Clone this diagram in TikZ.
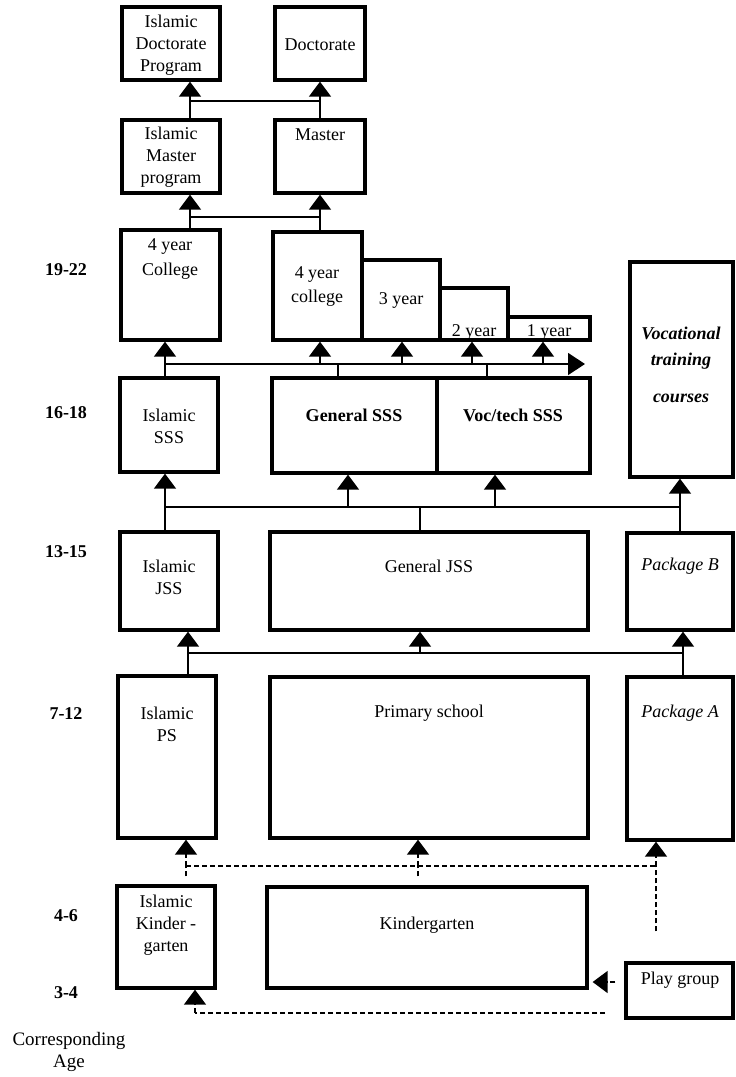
\documentclass[tikz,border=0pt]{standalone}
\usepackage{fontspec}
\setmainfont{Liberation Serif}
\usetikzlibrary{arrows.meta,fit}
\newcommand\bx[5]{\node[box, fit={(#2,#3) (#4,#5)}] (#1) {};}
\begin{document}
\begin{tikzpicture}[x=1pt,y=-1pt,
  box/.style={draw, line width=3.3pt, inner sep=0pt},
  txt/.style={font=\fontsize{18}{22}\selectfont, inner sep=0pt, align=center},
  btxt/.style={txt, font=\bfseries\fontsize{18}{22}\selectfont},
  itxt/.style={txt, font=\itshape\fontsize{18}{22}\selectfont},
  bitxt/.style={txt, font=\bfseries\itshape\fontsize{18}{22}\selectfont},
  age/.style={font=\bfseries\fontsize{18}{22}\selectfont, inner sep=0pt},
  ln/.style={line width=1.4pt},
  tip/.style={-{Triangle[width=22pt,length=15pt]}},
  arr/.style={ln, tip},
  dsh/.style={ln, dash pattern=on 5pt off 3pt}
]
\useasboundingbox (0,0) rectangle (736,1077);
\fill[white] (0,0) rectangle (736,1077);

% boxes
\bx{idoc}{122}{7}{220}{80}
\bx{doc}{275}{7}{365}{80}
\bx{imas}{122}{120}{220}{193}
\bx{mas}{275}{120}{365}{193}
\bx{icol}{121}{230}{220}{340}
\bx{col4}{273}{232}{362}{340}
\bx{col3}{362}{260}{440}{340}
\bx{col2}{440}{288}{508}{340}
\bx{col1}{508}{317}{590}{340}
\bx{voc}{630}{262}{733}{477}
\bx{isss}{120}{378}{218}{472}
\bx{gsss}{272}{378}{437}{473}
\bx{vsss}{437}{378}{590}{473}
\bx{ijss}{120}{532}{218}{630}
\bx{gjss}{270}{532}{588}{630}
\bx{pkgb}{627}{533}{733}{630}
\bx{ips}{118}{676}{216}{838}
\bx{prim}{270}{677}{588}{838}
\bx{pkga}{627}{677}{733}{840}
\bx{ikg}{117}{886}{215}{988}
\bx{kg}{267}{887}{587}{988}
\bx{play}{626}{963}{733}{1018}

% texts
\node[txt] (tidoc) at (171,45) {Islamic\\Doctorate\\Program};
\node[txt] (tdoc) at (320,45) {Doctorate};
\node[txt] (timas) at (171,157) {Islamic\\Master\\program};
\node[txt] (tmas) at (320,135) {Master};
\node[txt] (ticol) at (170,259) {4 year\\[3pt]College};
\node[txt] (tcol4) at (317,287) {4 year\\[2pt]college};
\node[txt] (tcol3) at (401,300) {3 year};
\node[txt] (tcol2) at (474,332) {2 year};
\node[txt] (tcol1) at (549,332) {1 year};
\node[bitxt] (tvoc1) at (681,333) {Vocational};
\node[bitxt] (tvoc2) at (681,361) {training};
\node[bitxt] (tvoc3) at (681,398) {courses};
\node[txt] (tisss) at (169,426) {Islamic\\SSS};
\node[btxt] (tgsss) at (354,415) {General SSS};
\node[btxt] (tvsss) at (513,415) {Voc/tech SSS};
\node[txt] (tijss) at (169,577) {Islamic\\JSS};
\node[txt] (tgjss) at (429,566) {General JSS};
\node[itxt] (tpkgb) at (680,566) {Package B};
\node[txt] (tips) at (167,724) {Islamic\\PS};
\node[txt] (tprim) at (429,713) {Primary school};
\node[itxt] (tpkga) at (680,713) {Package A};
\node[txt] (tikg) at (166,925) {Islamic\\Kinder -\\garten};
\node[txt] (tkg) at (427,925) {Kindergarten};
\node[txt] (tplay) at (680,980) {Play group};

% ages
\node[age] (a1) at (66,270) {19-22};
\node[age] (a2) at (66,413) {16-18};
\node[age] (a3) at (66,552) {13-15};
\node[age] (a4) at (66,714) {7-12};
\node[age] (a5) at (66,916) {4-6};
\node[age] (a6) at (66,993) {3-4};
\node[txt, font=\fontsize{19}{22}\selectfont] (corr) at (69,1052) {Corresponding\\Age};

% master -> doctorate
\coordinate (j1a) at (190,101); \coordinate (j1b) at (320,101);
\draw[arr] (j1a |- imas.north) -- (j1a |- idoc.south);
\draw[arr] (j1b |- mas.north) -- (j1b |- doc.south);
\draw[ln] (j1a) -- (j1b);

% college -> master
\coordinate (j2a) at (190,217); \coordinate (j2b) at (320,217);
\draw[arr] (j2a |- icol.north) -- (j2a |- imas.south);
\draw[arr] (j2b |- col4.north) -- (j2b |- mas.south);
\draw[ln] (j2a) -- (j2b);

% SSS -> college
\coordinate (b3s) at (165,364); \coordinate (b3e) at (585,364);
\coordinate (b3a) at (320,364); \coordinate (b3b) at (402,364);
\coordinate (b3c) at (472,364); \coordinate (b3d) at (543,364);
\coordinate (b3g) at (338,364); \coordinate (b3v) at (487,364);
\draw[ln, -{Triangle[width=22pt,length=17pt]}] (b3s) -- (b3e);
\draw[arr] (b3s |- isss.north) -- (b3s |- icol.south);
\draw[arr] (b3a) -- (b3a |- col4.south);
\draw[arr] (b3b) -- (b3b |- col3.south);
\draw[arr] (b3c) -- (b3c |- col2.south);
\draw[arr] (b3d) -- (b3d |- col1.south);
\draw[ln] (b3g |- gsss.north) -- (b3g);
\draw[ln] (b3v |- vsss.north) -- (b3v);

% JSS -> SSS
\coordinate (b4s) at (165,507); \coordinate (b4e) at (680,507);
\coordinate (b4g) at (348,507); \coordinate (b4v) at (495,507);
\coordinate (b4j) at (420,507);
\draw[ln] (b4s) -- (b4e);
\draw[arr] (b4s |- ijss.north) -- (b4s |- isss.south);
\draw[arr] (b4g) -- (b4g |- gsss.south);
\draw[arr] (b4v) -- (b4v |- vsss.south);
\draw[arr] (b4e |- pkgb.north) -- (b4e |- voc.south);
\draw[ln] (b4j |- gjss.north) -- (b4j);

% PS -> JSS
\coordinate (b5s) at (188,653); \coordinate (b5e) at (683,653);
\coordinate (b5g) at (420,653);
\draw[ln] (b5s) -- (b5e);
\draw[arr] (b5s |- ips.north) -- (b5s |- ijss.south);
\draw[arr] (b5g) -- (b5g |- gjss.south);
\draw[arr] (b5e |- pkga.north) -- (b5e |- pkgb.south);

% kindergarten -> PS (dashed)
\coordinate (d1) at (186,866); \coordinate (d2) at (418,866); \coordinate (d3) at (656,866);
\draw[dsh] (d1) -- (d3);
\draw[dsh, tip] (d1) -- (d1 |- ips.south);
\draw[dsh, tip] (d2) -- (d2 |- prim.south);
\draw[dsh, tip] (d3) -- (d3 |- pkga.south);
\draw[dsh, shorten <=8pt] (d1 |- ikg.north) -- (d1);
\draw[dsh, shorten <=9pt] (d2 |- kg.north) -- (d2);
\draw[dsh, shorten <=30pt] (d3 |- play.north) -- (d3);

% play group -> kindergarten
\coordinate (pg) at (600,982);
\draw[dsh, tip, shorten <=9pt, shorten >=4pt] (play.west |- pg) -- (kg.east |- pg);

% play group -> islamic kindergarten
\coordinate (e1) at (195,1013); \coordinate (e2) at (605,1013);
\draw[dsh] (e2) -- (e1);
\draw[dsh, tip] (e1) -- (e1 |- ikg.south);
\end{tikzpicture}
\end{document}
